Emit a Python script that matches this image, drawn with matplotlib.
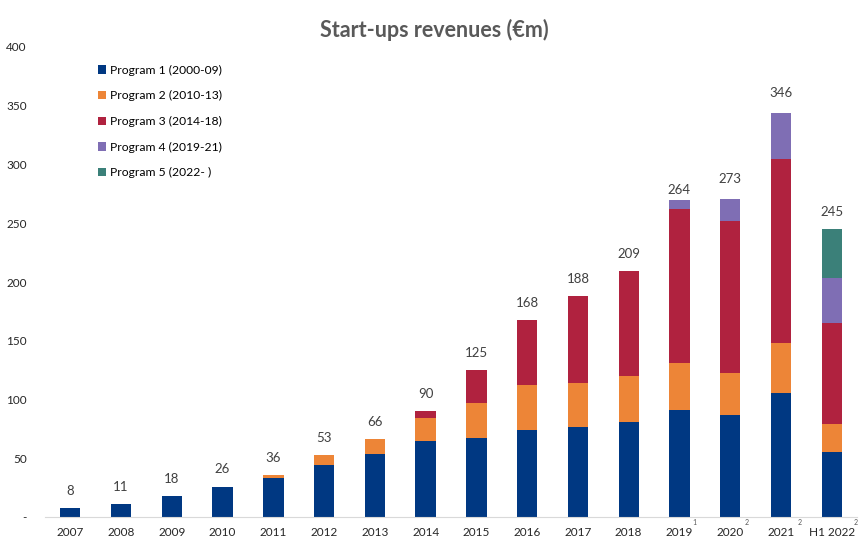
import matplotlib.pyplot as plt
import numpy as np

plt.rcParams['font.family'] = ['Lato', 'DejaVu Sans']

anos = ['2007', '2008', '2009', '2010', '2011', '2012', '2013', '2014',
        '2015', '2016', '2017', '2018', '2019', '2020', '2021', 'H1 2022']
notas = ['', '', '', '', '', '', '', '', '', '', '', '', '1', '2', '2', '2']

prog1 = [8, 11, 18, 26, 33.5, 44, 54, 65, 67, 74.5, 76.5, 80.5, 91, 86.5, 105.5, 55.5]
prog2 = [0, 0, 0, 0, 2.5, 9, 12, 19, 30, 37.5, 37.5, 39.5, 40.5, 36.5, 42.5, 23.5]
prog3 = [0, 0, 0, 0, 0, 0, 0, 6, 28, 56, 74, 89, 130.5, 129, 156.5, 86.5]
prog4 = [0, 0, 0, 0, 0, 0, 0, 0, 0, 0, 0, 0, 7.5, 19, 39, 37.5]
prog5 = [0, 0, 0, 0, 0, 0, 0, 0, 0, 0, 0, 0, 0, 0, 0, 42]
totais = [8, 11, 18, 26, 36, 53, 66, 90, 125, 168, 188, 209, 264, 273, 346, 245]

series = [prog1, prog2, prog3, prog4, prog5]
nomes = ['Program 1 (2000-09)', 'Program 2 (2010-13)', 'Program 3 (2014-18)',
         'Program 4 (2019-21)', 'Program 5 (2022- )']
cores = ['#003882', '#ED8537', '#B0223F', '#7F6EB4', '#3B8079']

fig = plt.figure(figsize=(8.64, 5.46), dpi=100)
ax = fig.add_axes([0.052, 0.053, 0.94, 0.861])

x = np.arange(len(anos))
base = np.zeros(len(anos))
for vals, nome, cor in zip(series, nomes, cores):
    ax.bar(x, vals, 0.4, bottom=base, color=cor, label=nome)
    base += np.array(vals)

for i, t in enumerate(totais):
    ax.annotate(str(t), (x[i], t), xytext=(0, 8), textcoords='offset points',
                ha='center', va='bottom', fontsize=9.5, color='#404040')

# chamadas de nota (sobrescrito) ao lado dos rótulos
desloc = [0, 0, 0, 0, 0, 0, 0, 0, 0, 0, 0, 0, 0.3, 0.33, 0.36, 0.47]
for i, n in enumerate(notas):
    if n:
        ax.text(x[i] + desloc[i], -0.005, n, transform=ax.get_xaxis_transform(),
                ha='center', va='top', fontsize=5, color='#595959')

ax.set_xlim(-0.5, 15.5)
ax.set_ylim(0, 400)
ax.set_xticks(x, anos)
ax.set_yticks(range(0, 401, 50), ['-'] + [str(v) for v in range(50, 401, 50)])
ax.tick_params(length=0, labelsize=8.5, colors='#262626')
ax.tick_params(axis='y', pad=13)
ax.tick_params(axis='x', pad=7)
for s in ['top', 'right', 'left']:
    ax.spines[s].set_visible(False)
ax.spines['bottom'].set_color('#D9D9D9')

ax.legend(loc='upper left', bbox_to_anchor=(0.052, 0.985), frameon=False,
          fontsize=8.7, labelspacing=1.2, handlelength=0.7, handleheight=0.7,
          handletextpad=0.3)

fig.suptitle('Start-ups revenues (€m)', x=0.503, y=0.965, fontsize=15.5,
             fontweight='bold', color='#595959')

fig.savefig('out.png')
